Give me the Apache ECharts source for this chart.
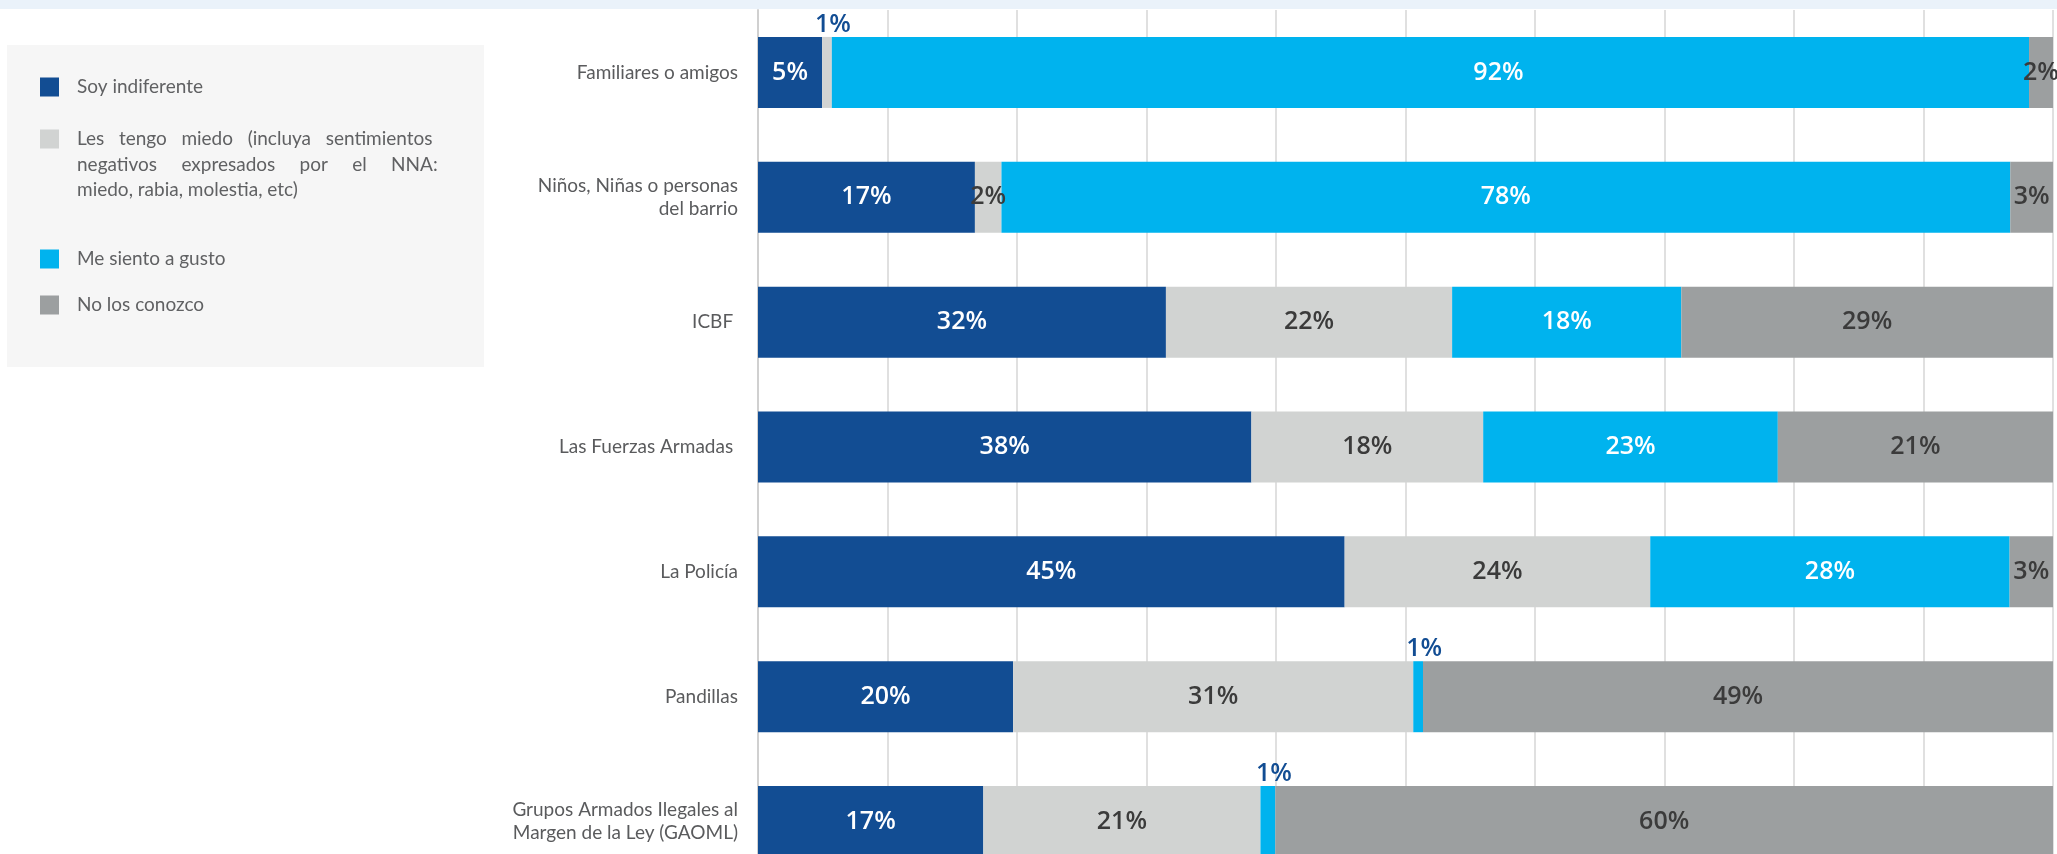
<!DOCTYPE html>
<html>
<head>
<meta charset="utf-8">
<title>Cómo se sienten con los actores</title>
<script src="https://cdn.jsdelivr.net/npm/echarts@6/dist/echarts.min.js"></script>
<style>
    html, body { margin: 0; padding: 0; background: #fff; }
    #chart-container { width: 2057px; height: 854px; }
</style>
</head>
<body>
<div id="chart-container"></div>
<script>
// categorias (de arriba hacia abajo)
var categories = [
    'Familiares o amigos',
    'Niños, Niñas o personas\ndel barrio',
    'ICBF ',
    'Las Fuerzas Armadas ',
    'La Policía',
    'Pandillas',
    'Grupos Armados Ilegales al\nMargen de la Ley (GAOML)'
];
var seriesNames = [
    'Soy indiferente',
    'Les tengo miedo (incluya sentimientos negativos expresados por el NNA: miedo, rabia, molestia, etc)',
    'Me siento a gusto',
    'No los conozco'
];
// texto de la leyenda (el segundo va en tres lineas, "justificado" con espacios)
var legendLabels = [
    'Soy indiferente',
    'Les   tengo   miedo   (incluya   sentimientos\nnegativos     expresados     por     el     NNA:\nmiedo, rabia, molestia, etc)',
    'Me siento a gusto',
    'No los conozco'
];
// porcentajes
var indiferente = [4.95, 16.75, 31.5, 38.1, 45.3, 19.7, 17.4];
var miedo = [0.75, 2.05, 22.1, 17.9, 23.6, 30.9, 21.4];
var gusto = [92.45, 77.9, 17.7, 22.75, 27.75, 0.75, 1.15];
var noConozco = [1.85, 3.3, 28.7, 21.25, 3.35, 48.65, 60.05];

var colors = ['#124d93', '#d1d3d2', '#00b3ee', '#9c9fa0'];
var labelColors = ['#ffffff', '#3b3b3b', '#ffffff', '#3b3b3b'];

var myChart;
myChart = echarts.init(document.getElementById('chart-container'));
initChart();

function buildSeries(name, values, i) {
    var data = values.map(function (v, j) {
        if (v < 1.5) {
            // valores muy chicos: etiqueta arriba de la barra
            return {
                value: v,
                label: { position: 'top', distance: 0, color: '#124d93', offset: [6, 0] }
            };
        }
        // en el original el 92% no queda centrado
        if (i === 2 && j === 0) {
            return { value: v, label: { offset: [68, 0] } };
        }
        return v;
    });
    return {
        name: name,
        type: 'bar',
        stack: 'total',
        barWidth: 71,
        itemStyle: { color: colors[i] },
        label: {
            show: true,
            position: 'inside',
            fontFamily: 'Open Sans',
            fontWeight: 600,
            fontSize: 25,
            color: labelColors[i],
            formatter: function (p) {
                return Math.round(p.value) + '%';
            }
        },
        data: data
    };
}

function buildLegend() {
    var centers = [87, 139, 259, 305];
    var items = [
        { type: 'rect', shape: { x: 0, y: 0, width: 2057, height: 9 }, style: { fill: '#eaf2fa' }, silent: true },
        { type: 'rect', shape: { x: 7, y: 45, width: 477, height: 322 }, style: { fill: '#f6f6f6' }, silent: true }
    ];
    for (var i = 0; i < legendLabels.length; i++) {
        items.push({
            type: 'rect',
            shape: { x: 40, y: centers[i] - 9.5, width: 19, height: 19 },
            style: { fill: colors[i] }
        });
        var multi = legendLabels[i].indexOf('\n') >= 0;
        items.push({
            type: 'text',
            x: 77,
            y: multi ? centers[i] - 12.75 : centers[i],
            style: {
                text: legendLabels[i],
                fill: '#606163',
                font: '19px Lato',
                lineHeight: 25.5,
                verticalAlign: multi ? 'top' : 'middle'
            }
        });
    }
    return items;
}

function initChart() {
    var option = {
        animation: false,
        backgroundColor: '#ffffff',
        grid: {
            left: 758,
            top: 10,
            width: 1295,
            height: 874,
            outerBoundsMode: 'none'
        },
        xAxis: {
            type: 'value',
            min: 0,
            max: 100,
            interval: 10,
            axisLabel: { show: false },
            axisLine: { show: false },
            axisTick: { show: false },
            splitLine: {
                lineStyle: { color: '#d6d6d6', width: 1.5 }
            }
        },
        yAxis: {
            type: 'category',
            inverse: true,
            data: categories,
            axisTick: { show: false },
            axisLine: {
                show: true,
                lineStyle: { color: '#d0d0d0', width: 2 }
            },
            axisLabel: {
                margin: 20,
                fontFamily: 'Lato',
                fontSize: 19,
                lineHeight: 23,
                color: '#5a5b5d',
                align: 'right'
            }
        },
        graphic: buildLegend(),
        series: [
            buildSeries(seriesNames[0], indiferente, 0),
            buildSeries(seriesNames[1], miedo, 1),
            buildSeries(seriesNames[2], gusto, 2),
            buildSeries(seriesNames[3], noConozco, 3)
        ]
    };
    myChart.setOption(option);
}
</script>
</body>
</html>
